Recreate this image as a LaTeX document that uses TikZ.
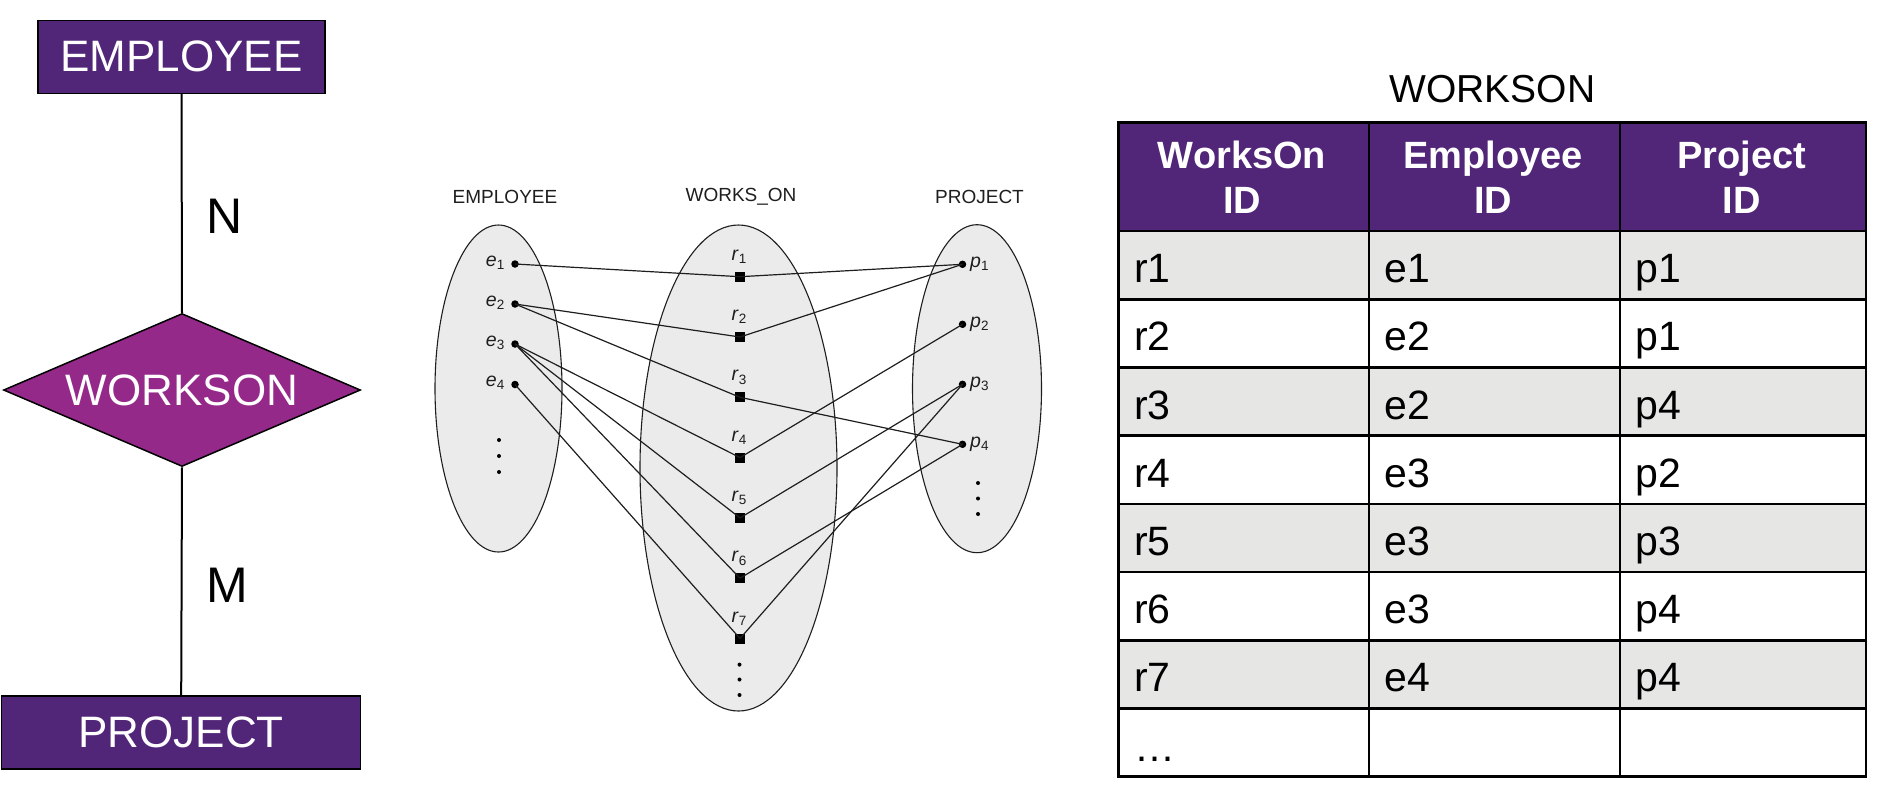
\documentclass[tikz,border=0pt]{standalone}
\usepackage{fontspec}
\setmainfont{Liberation Sans}
\usetikzlibrary{shapes.geometric}
\definecolor{erpurple}{HTML}{512577}
\definecolor{ermagenta}{HTML}{95298A}
\definecolor{rowgray}{HTML}{E6E6E5}
\definecolor{setgray}{HTML}{EBEBEB}
\definecolor{inkgray}{HTML}{1E1E1E}
\newcommand{\fs}[1]{\fontsize{#1}{#1}\selectfont}
\newcommand{\elab}[2]{\textit{#1}\raisebox{-3.4pt}{\fs{13.5}#2}}
\begin{document}
\begin{tikzpicture}[x=1pt,y=-1pt,
  erbox/.style={draw=black, line width=1.5pt, fill=erpurple, text=white, inner sep=0pt, font=\fs{44}},
  erdiamond/.style={diamond, aspect=2.33, minimum width=357pt, minimum height=153pt, inner sep=0pt,
    draw=black, line width=1.5pt, fill=ermagenta, text=white, font=\fs{44}},
  erline/.style={line width=2pt, black},
  card/.style={font=\fs{50}, inner sep=0pt},
  setell/.style={ellipse, draw=inkgray, line width=1.1pt, fill=setgray, inner sep=0pt},
  settitle/.style={font=\fs{19}, text=inkgray, inner sep=0pt},
  edot/.style={circle, fill=black, inner sep=0pt, minimum size=7.5pt},
  rsq/.style={rectangle, fill=black, inner sep=0pt, minimum size=10pt},
  lab/.style={font=\fs{19.5}, text=inkgray, inner sep=0pt},
  conn/.style={draw=inkgray, line width=1.2pt},
  tline/.style={draw=black, line width=2.6pt},
  hdr/.style={font=\fs{38}\bfseries, text=white, inner sep=0pt, anchor=base},
  cell/.style={font=\fs{41}, inner sep=0pt, anchor=base west}
]
\useasboundingbox (0,0) rectangle (1886,804);

% ---------------- ER diagram ----------------
\node[erbox, minimum width=287pt, minimum height=73pt] (emp) at (181.5,56.8) {EMPLOYEE};
\node[erdiamond] (rel) at (182,390) {WORKSON};
\node[erbox, minimum width=359pt, minimum height=73pt] (proj) at (181.2,732.5) {PROJECT};
\draw[erline] (emp.south) -- (rel.north);
\draw[erline] (rel.south) -- (proj.north);
\node[card] (nlab) at (225,216) {N};
\node[card] (mlab) at (227.5,585) {M};

% ---------------- occurrence diagram ----------------
\node[setell, minimum width=127pt, minimum height=327pt] (Eset) at (498.5,388.5) {};
\node[setell, minimum width=197pt, minimum height=486pt] (Wset) at (738.5,468) {};
\node[setell, minimum width=129pt, minimum height=328pt] (Pset) at (977,388.7) {};

\node[settitle] (tE) at (505,196.7) {EMPLOYEE};
\node[settitle] (tW) at (741,196.7) {WORKS\_ON};
\node[settitle] (tP) at (979.5,196.7) {PROJECT};

\foreach \i/\y in {1/264,2/304,3/344,4/384.5} {
  \node[edot] (e\i) at (515,\y) {};
  \node[lab, anchor=base east] (le\i) at (504.5,\y+2) {\elab{e}{\i}};
}
\foreach \i in {1,...,7} {
  \pgfmathsetmacro\ry{276.7+60.3*(\i-1)}
  \node[rsq] (r\i) at (740,\ry) {};
  \node[lab, anchor=base] (lr\i) at (739,\ry-16.5) {\elab{r}{\i}};
}
\foreach \i/\y in {1/264.3,2/324.3,3/384.3,4/444.3} {
  \node[edot] (p\i) at (962.5,\y) {};
  \node[lab, anchor=base west] (lp\i) at (970,\y+3) {\elab{p}{\i}};
}

\foreach \y in {440,456,472} \fill (499,\y) circle (2pt);
\foreach \y in {664.6,679.5,695} \fill (739.5,\y) circle (2pt);
\foreach \y in {483,498.5,514} \fill (978,\y) circle (2pt);

\foreach \a/\b in {e1/r1,e2/r2,e2/r3,e3/r4,e3/r5,e3/r6,e4/r7,
                   r1/p1,r2/p1,r3/p4,r4/p2,r5/p3,r6/p4,r7/p3}
  \draw[conn] (\a.center) -- (\b.center);

% ---------------- table ----------------
\node[font=\fs{39}, inner sep=0pt, anchor=base] (ttitle) at (1492.5,102.7) {WORKSON};

\fill[erpurple] (1118.5,122.7) rectangle (1866,231);
\foreach \k in {0,2,4,6}
  \fill[rowgray] (1118.5,{231+68.2*\k}) rectangle (1866,{231+68.2*(\k+1)});
\draw[tline] (1118.5,122.7) -- (1866,122.7);
\foreach \k in {0,...,8}
  \draw[tline] (1118.5,{231+68.2*\k}) -- (1866,{231+68.2*\k});
\foreach \x in {1118.5,1369,1620,1866}
  \draw[tline] (\x,121.4) -- (\x,777.9);

\node[hdr] (h1a) at (1242,168.3) {WorksOn};
\node[hdr] (h1b) at (1242,213.3) {ID};
\node[hdr] (h2a) at (1493,168.3) {Employee};
\node[hdr] (h2b) at (1493,213.3) {ID};
\node[hdr] (h3a) at (1741.5,168.3) {Project};
\node[hdr] (h3b) at (1741.5,213.3) {ID};

\foreach \a/\b/\c [count=\k from 0] in {r1/e1/p1,r2/e2/p1,r3/e2/p4,r4/e3/p2,r5/e3/p3,r6/e3/p4,r7/e4/p4} {
  \pgfmathsetmacro\by{231+68.2*\k+51.7}
  \node[cell] (ca\k) at (1134,\by) {\a};
  \node[cell] (cb\k) at (1384.5,\by) {\b};
  \node[cell] (cc\k) at (1635,\by) {\c};
}
\node[cell] (cdots) at (1134,761.7) {…};
\end{tikzpicture}
\end{document}
